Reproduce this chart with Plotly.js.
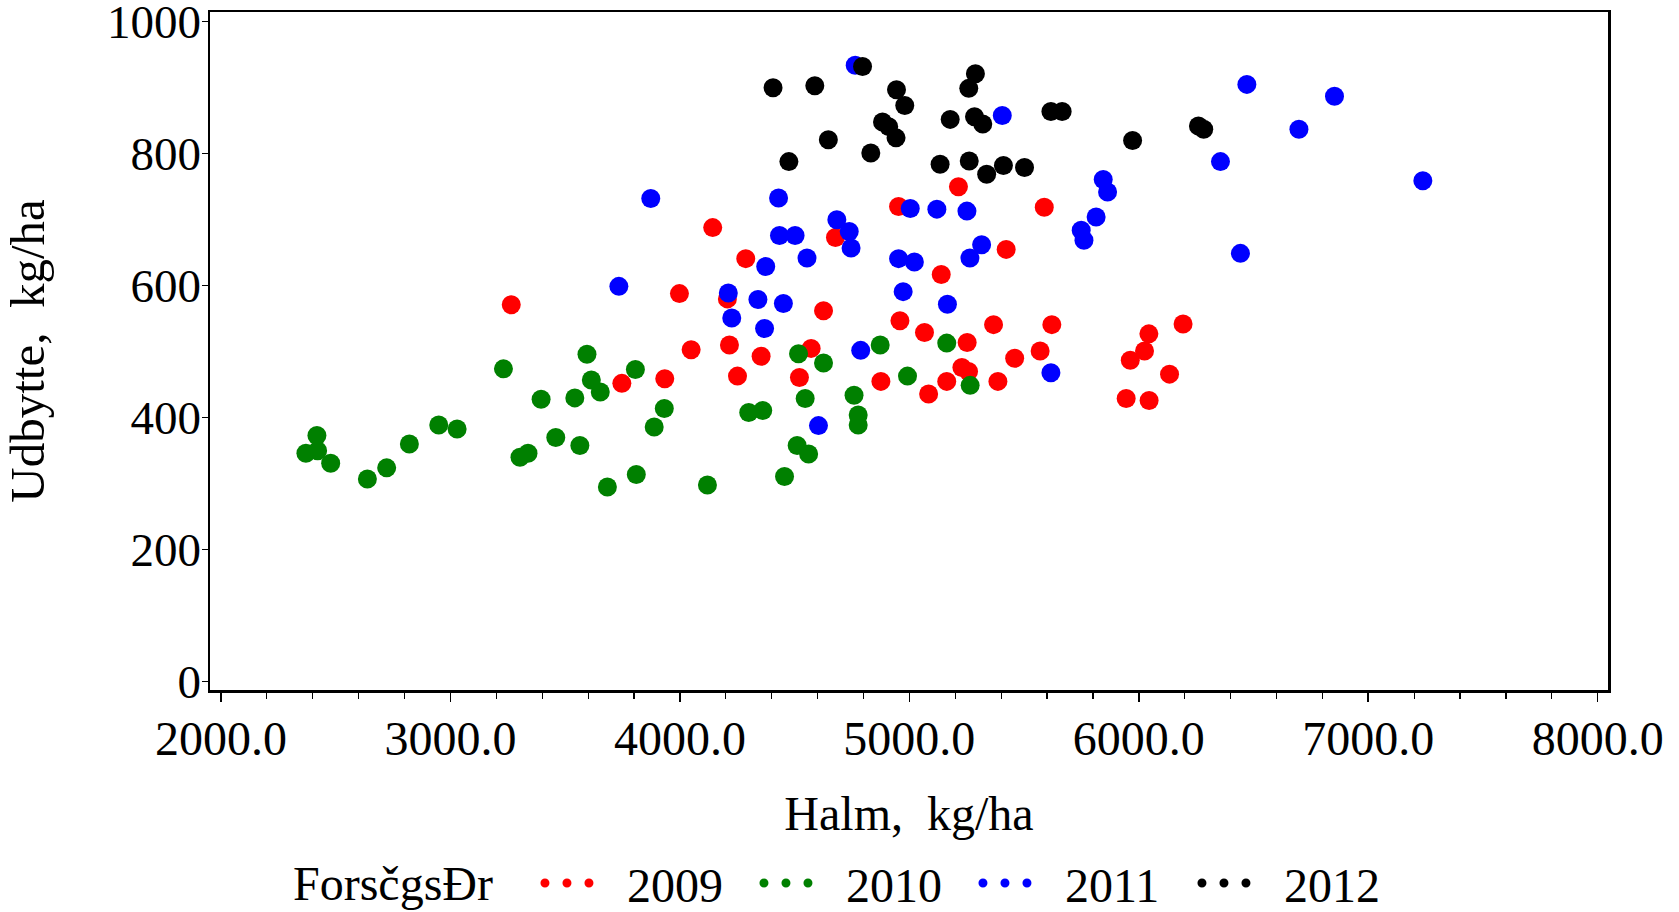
<!DOCTYPE html>
<html>
<head>
<meta charset="utf-8">
<script src="https://cdn.plot.ly/plotly-3.0.1.min.js"></script>
<style>
html, body { margin: 0; padding: 0; background: #fff; }
#chart { width: 1679px; height: 912px; }
.legend .js-line { stroke-linecap: round; }
</style>
</head>
<body>
<div id="chart"></div>
<script>
// Forsøgsår (trial year) series
const years = ['2009', '2010', '2011', '2012'];
const colors = ['#FF0000', '#008000', '#0000FF', '#000000'];

// Halm (straw), kg/ha  and  Udbytte (yield), kg/ha
const halm2009 = [3265, 3747, 3934, 3998, 4049, 4143, 4207, 4216, 4251, 4287, 4354, 4521, 4572, 4626, 4678, 4876, 4953, 4959, 5066, 5084,
                  5139, 5163, 5214, 5229, 5252, 5258, 5367, 5386, 5422, 5459, 5570, 5588, 5621, 5945, 5963, 6025, 6044, 6045, 6134, 6193];
const udb2009  = [571, 452, 459, 588, 503, 688, 580, 510, 463, 641, 493, 461, 505, 562, 673, 455, 720, 547, 529, 436,
                  617, 455, 750, 476, 514, 470, 541, 455, 655, 490, 501, 719, 541, 429, 487, 501, 527, 426, 466, 542];

const halm2010 = [2370, 2418, 2421, 2478, 2638, 2722, 2821, 2949, 3029, 3231, 3303, 3338, 3395, 3459, 3542, 3564, 3595, 3614, 3653, 3684,
                  3806, 3810, 3888, 3932, 4120, 4300, 4361, 4456, 4511, 4517, 4546, 4561, 4626, 4759, 4777, 4777, 4873, 4992, 5163, 5265];
const udb2010  = [346, 373, 350, 331, 307, 324, 360, 389, 383, 474, 340, 346, 428, 370, 430, 358, 496, 457, 439, 295,
                  473, 314, 386, 414, 298, 408, 411, 311, 358, 497, 429, 345, 483, 434, 404, 389, 510, 463, 513, 449];

const halm2011 = [3734, 3873, 4211, 4226, 4340, 4369, 4374, 4430, 4434, 4451, 4502, 4554, 4604, 4684, 4738, 4746, 4764, 4788, 4953, 4973,
                  5004, 5022, 5120, 5166, 5251, 5264, 5315, 5405, 5617, 5749, 5761, 5814, 5845, 5864, 6356, 6443, 6471, 6698, 6853, 7238];
const udb2011  = [599, 732, 589, 551, 579, 535, 629, 733, 676, 573, 676, 642, 388, 700, 682, 657, 934, 502, 641, 591,
                  717, 636, 716, 572, 713, 642, 662, 858, 468, 684, 669, 704, 761, 742, 788, 649, 905, 837, 887, 759];

const halm2012 = [4406, 4475, 4588, 4647, 4796, 4832, 4883, 4910, 4942, 4944, 4980, 5134, 5178, 5259, 5261, 5284, 5288, 5320, 5337, 5410,
                  5502, 5617, 5666, 5973, 6260, 6283];
const udb2012  = [900, 788, 903, 821, 932, 801, 848, 841, 824, 897, 873, 784, 852, 899, 789, 856, 921, 845, 769, 782,
                  779, 864, 864, 820, 842, 837];

const xTitle = 'Halm,\u00a0 kg/ha';
const yTitle = 'Udbytte,\u00a0 kg/ha';
const legendTitle = 'ForsčgsĐr';

const halmSeries = [halm2009, halm2010, halm2011, halm2012];
const udbSeries = [udb2009, udb2010, udb2011, udb2012];

const FONT = '"Liberation Serif", "Times New Roman", serif';

const traces = [];
years.forEach((yr, i) => {
  traces.push({
    type: 'scatter', mode: 'markers', name: yr, legendgroup: yr, showlegend: false,
    x: halmSeries[i], y: udbSeries[i],
    marker: { color: colors[i], size: 19, line: { width: 0 } },
    hoverinfo: 'x+y'
  });
});
years.forEach((yr, i) => {
  traces.push({
    type: 'scatter', mode: 'lines', name: yr, legendgroup: yr, showlegend: true,
    x: [null], y: [null],
    line: { color: colors[i], width: 9, dash: '0px,22px,0px,22px,0px,300px' },
    hoverinfo: 'skip'
  });
});

const layout = {
  width: 1679, height: 912,
  margin: { l: 210, r: 71, t: 12, b: 222, pad: 0, autoexpand: false },
  paper_bgcolor: '#ffffff', plot_bgcolor: '#ffffff',
  font: { family: FONT, size: 48, color: '#000000' },
  showlegend: true,
  xaxis: {
    range: [1952, 8045], autorange: false,
    tickmode: 'linear', tick0: 2000, dtick: 1000, tickformat: '.1f',
    ticks: 'outside', ticklen: 9, tickwidth: 1.5, tickcolor: '#000',
    minor: { dtick: 200, tick0: 2000, ticks: 'outside', ticklen: 6, tickwidth: 1.2, tickcolor: '#000', showgrid: false },
    showline: true, linewidth: 2.5, linecolor: '#000', mirror: true,
    showgrid: false, zeroline: false,
    tickfont: { family: FONT, size: 48 },
    ticklabelstandoff: -4,
    automargin: false,
    title: { text: xTitle, font: { family: FONT, size: 48 }, standoff: 33 }
  },
  yaxis: {
    range: [-12.6, 1014.7], autorange: false,
    tickmode: 'linear', tick0: 0, dtick: 200,
    ticks: 'outside', ticklen: 6, tickwidth: 1.5, tickcolor: '#000',
    showline: true, linewidth: 2.5, linecolor: '#000', mirror: true,
    showgrid: false, zeroline: false,
    tickfont: { family: FONT, size: 47 },
    ticklabelstandoff: -9,
    ticklabeloverflow: 'allow',
    automargin: false,
    title: { text: yTitle, font: { family: FONT, size: 49 }, standoff: 55 }
  },
  legend: {
    orientation: 'h',
    xref: 'container', yref: 'container',
    x: 0.3216, xanchor: 'left',
    y: 0.0315, yanchor: 'middle',
    font: { family: FONT, size: 48 },
    itemwidth: 77,
    entrywidth: 127,
    tracegroupgap: 0,
    bgcolor: 'rgba(0,0,0,0)'
  },
  annotations: [{
    text: legendTitle, showarrow: false,
    xref: 'paper', yref: 'paper',
    x: 0.0579, xanchor: 'left',
    y: -0.2847, yanchor: 'middle',
    font: { family: FONT, size: 48, color: '#000' }
  }]
};

Plotly.newPlot('chart', traces, layout, { displayModeBar: false, staticPlot: true });
</script>
</body>
</html>
